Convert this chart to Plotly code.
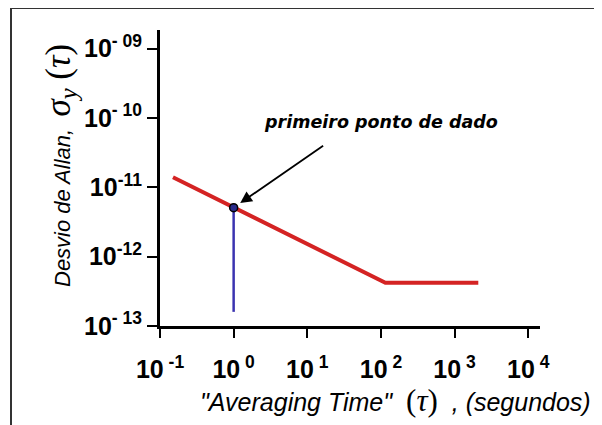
import numpy as np
import plotly.graph_objects as go

# ---- data ----
tau_curve = [0.15, 115, 2100]            # seconds
sigma_curve = [1.4e-11, 4.2e-13, 4.2e-13]
tau_point = [1.0]
sigma_point = [5.1e-12]
stem_tau = [1.0, 1.0]
stem_sigma = [5.1e-12, 1.6e-13]

x_tickvals = [0.1, 1, 10, 100, 1000, 10000]
x_ticktext = ["-1", "0", "1", "2", "3", "4"]
y_tickvals = [1e-13, 1e-12, 1e-11, 1e-10, 1e-9]
y_ticktext = ["- 13", "-12", "-11", "- 10", "- 09"]

W, H = 602, 425
OFF = 8  # page offset of the figure (browser body margin)
# desired plot area in page pixels
PX_L, PX_R, PX_T, PX_B = 160, 540, 30, 326
L = PX_L - OFF
T = PX_T - OFF
R = W - (PX_R - OFF)
B = H - (PX_B - OFF)
PW, PH = PX_R - PX_L, PX_B - PX_T

def px2paper_x(p):
    return (p - PX_L) / PW

def px2paper_y(p):
    return (PX_B - p) / PH

LBL_FONT = "Liberation Sans, Arial, sans-serif"

fig = go.Figure()
fig.add_trace(go.Scatter(x=tau_curve, y=sigma_curve, mode="lines",
                         line=dict(color="#d42323", width=4), showlegend=False))
fig.add_trace(go.Scatter(x=stem_tau, y=stem_sigma, mode="lines",
                         line=dict(color="#3b33b0", width=2.5), showlegend=False))
fig.add_trace(go.Scatter(x=tau_point, y=sigma_point, mode="markers",
                         marker=dict(color="#2a2a8a", size=8,
                                     line=dict(color="black", width=1.5)),
                         showlegend=False))

fig.update_xaxes(type="log", range=[-1, 4.16],
                 tickvals=x_tickvals,
                 ticktext=[f"<b>10<sup> {t}</sup></b>" for t in x_ticktext],
                 showline=True, linecolor="black", linewidth=3,
                 ticks="outside", ticklen=9, tickwidth=2, tickcolor="black",
                 showgrid=False, zeroline=False, ticklabelstandoff=10,
                 tickfont=dict(family=LBL_FONT, size=25, color="black"))
fig.update_yaxes(type="log", range=[-13, -8.73],
                 tickvals=y_tickvals,
                 ticktext=[f"<b>10<sup>{t}</sup></b>" for t in y_ticktext],
                 showline=True, linecolor="black", linewidth=3,
                 ticks="outside", ticklen=10, tickwidth=2, tickcolor="black",
                 showgrid=False, zeroline=False, ticklabelstandoff=0,
                 tickfont=dict(family=LBL_FONT, size=25, color="black"))

annotations = [
    # x title
    dict(xref="paper", yref="paper", x=px2paper_x(395), y=px2paper_y(400),
         xanchor="center", yanchor="middle", showarrow=False,
         text='<i>"Averaging Time"</i>  <span style="font-family:Liberation Serif;font-size:31px">(<i>τ</i>)</span>  <i>, (segundos)</i>',
         font=dict(family=LBL_FONT, size=25, color="black")),
    # y title
    dict(xref="paper", yref="paper", x=px2paper_x(60), y=px2paper_y(166),
         xanchor="center", yanchor="middle", showarrow=False, textangle=-90,
         text='<i>Desvio de Allan,</i>  <span style="font-family:Liberation Serif;font-size:35px"><i>σ</i><sub><i>y</i></sub> (<i>τ</i>)</span>',
         font=dict(family=LBL_FONT, size=22, color="black")),
    # label
    dict(xref="paper", yref="paper", x=px2paper_x(381), y=px2paper_y(122),
         xanchor="center", yanchor="middle", showarrow=False,
         text="<b><i>primeiro ponto de dado</i></b>",
         font=dict(family="DejaVu Sans, sans-serif", size=17.5, color="black")),
    # arrow to first data point
    dict(x=np.log10(tau_point[0]), y=np.log10(sigma_point[0]), xref="x", yref="y",
         ax=91, ay=-63, showarrow=True, arrowhead=2, arrowsize=1.3,
         arrowwidth=1.8, arrowcolor="black", standoff=8, text=""),
]

shapes = [
    dict(type="line", xref="paper", yref="paper",
         x0=px2paper_x(11), y0=px2paper_y(8), x1=px2paper_x(W + 10), y1=px2paper_y(8),
         line=dict(color="#333333", width=2)),
    dict(type="line", xref="paper", yref="paper",
         x0=px2paper_x(11), y0=px2paper_y(8), x1=px2paper_x(11), y1=px2paper_y(H + 10),
         line=dict(color="#333333", width=2)),
]

fig.update_layout(width=W, height=H, margin=dict(l=L, r=R, t=T, b=B),
                  paper_bgcolor="white", plot_bgcolor="white",
                  annotations=annotations, shapes=shapes, showlegend=False)

fig.write_html("out.html")
